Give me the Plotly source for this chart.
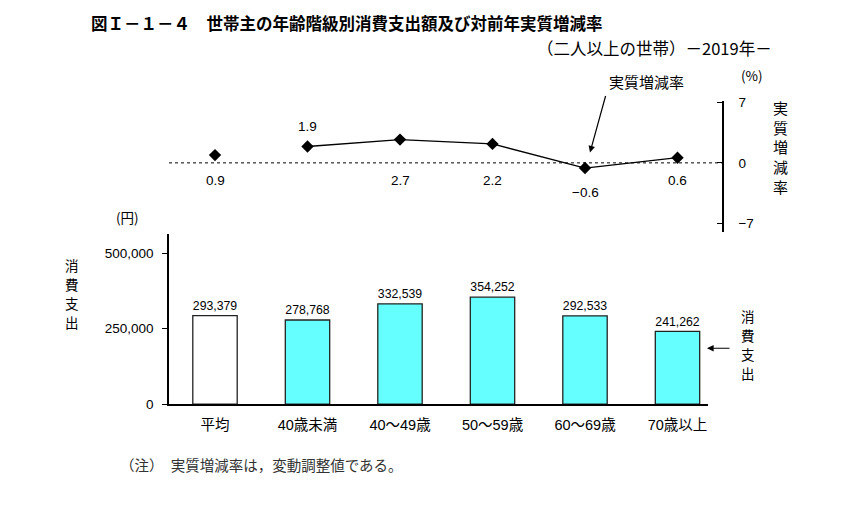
import plotly.graph_objects as go

categories = ["平均", "40歳未満", "40～49歳", "50～59歳", "60～69歳", "70歳以上"]
spending = [293379, 278768, 332539, 354252, 292533, 241262]
real_change = [0.9, 1.9, 2.7, 2.2, -0.6, 0.6]
bar_colors = ["#FFFFFF", "#66FFFF", "#66FFFF", "#66FFFF", "#66FFFF", "#66FFFF"]
bar_ticks = [0, 250000, 500000]
rate_ticks = [-7, 0, 7]

OFF = 8  # default body margin of the page
W, H = 860 - 2 * OFF, 511 - 2 * OFF
FONT = "Liberation Sans, Arial, Noto Sans CJK JP, sans-serif"
JFONT = "Noto Sans CJK JP, sans-serif"

def px(x):
    return (x - OFF) / W

def ty(y):
    # empirical vertical correction of the photographed page
    return (y - 6.5) / 0.973

def py(y):
    return (H - (ty(y) - OFF)) / H

fig = go.Figure()

fig.add_trace(go.Bar(
    x=categories, y=spending,
    marker=dict(color=bar_colors, line=dict(color="#222222", width=1.3)),
    width=0.48,
    text=[f"{v:,}" for v in spending], textposition="outside",
    textfont=dict(family=FONT, size=13.5, color="black"),
    cliponaxis=False,
    xaxis="x", yaxis="y", showlegend=False, hoverinfo="skip",
))

fig.add_trace(go.Scatter(
    x=categories[1:], y=real_change[1:], mode="lines+markers",
    line=dict(color="black", width=1.3),
    marker=dict(symbol="diamond", size=9.5, color="black"),
    xaxis="x2", yaxis="y2", showlegend=False, hoverinfo="skip", cliponaxis=False,
))
fig.add_trace(go.Scatter(
    x=categories[:1], y=real_change[:1], mode="markers",
    marker=dict(symbol="diamond", size=9.5, color="black"),
    xaxis="x2", yaxis="y2", showlegend=False, hoverinfo="skip", cliponaxis=False,
))

annotations = []
label_y = {0: -2.1, 1: 4.2, 2: -2.1, 3: -2.1, 4: -3.4, 5: -2.1}
for i, v in enumerate(real_change):
    annotations.append(dict(
        x=categories[i], y=label_y[i], xref="x2", yref="y2",
        text=f"{v:.1f}".replace("-", "−"), showarrow=False,
        font=dict(family=FONT, size=13.5, color="black"),
    ))

texts = [
    ("図Ｉ－１－４　世帯主の年齢階級別消費支出額及び対前年実質増減率", 89, 23, "left", 16.5, True, "black"),
    ("（二人以上の世帯）－2019年－", 774, 48, "right", 16.5, False, "black"),
    ("(円)", 127, 218, "center", 13.5, False, "black"),
    ("(%)", 752, 75, "center", 13.5, False, "black"),
    ("実質増減率", 646, 82, "center", 15, False, "black"),
    ("（注）　実質増減率は，変動調整値である。", 118, 465, "left", 14.5, False, "#333333"),
]
for t, x, y, anchor, size, bold, col in texts:
    annotations.append(dict(
        x=px(x), y=py(y), xref="paper", yref="paper", xanchor=anchor, yanchor="middle",
        text=f"<b>{t}</b>" if bold else t, showarrow=False, align="center",
        font=dict(family=JFONT, size=size, color=col),
    ))

# vertical titles, one character per line
vertical = [
    ("消費支出", 72, 265.5, 19.0, 13.5),
    ("実質増減率", 780, 108, 19.7, 15),
    ("消費支出", 748, 316.5, 19.0, 13.5),
]
for word, x, y0, step, size in vertical:
    for j, ch in enumerate(word):
        annotations.append(dict(
            x=px(x), y=py(y0 + j * step), xref="paper", yref="paper",
            xanchor="center", yanchor="middle", text=ch, showarrow=False,
            borderpad=0,
            font=dict(family=JFONT, size=size, color="black"),
        ))

annotations.append(dict(
    x=px(590), y=py(153), xref="paper", yref="paper", text="",
    showarrow=True, arrowhead=2, arrowsize=1.1, arrowwidth=1.2, arrowcolor="black",
    ax=16, ay=-58, standoff=0,
))
annotations.append(dict(
    x=px(707), y=py(349), xref="paper", yref="paper", text="",
    showarrow=True, arrowhead=2, arrowsize=1.1, arrowwidth=1.2, arrowcolor="black",
    ax=24, ay=0, standoff=0,
))

k = 92.5  # px per category
x0 = -46 / k
bar_left, bar_right = 169, 708
line_right = 722

bar_zero, bar_top, bar_500 = 405, 235, 253.8
r_top, r_bot, r_7, r_m7 = 101.5, 233, 103, 223.7

fig.update_layout(
    width=W, height=H, margin=dict(l=0, r=0, t=0, b=0),
    paper_bgcolor="white", plot_bgcolor="rgba(0,0,0,0)",
    font=dict(family=FONT, color="black"),
    xaxis=dict(
        domain=[px(bar_left), px(bar_right)], anchor="y",
        range=[x0, x0 + (bar_right - bar_left) / k],
        categoryorder="array", categoryarray=categories,
        showline=True, linecolor="black", linewidth=1.5, ticks="",
        ticklabelstandoff=7,
        tickfont=dict(family=FONT, size=14.5, color="black"),
        showgrid=False, zeroline=False, fixedrange=True,
    ),
    yaxis=dict(
        domain=[py(bar_zero), py(bar_top)], anchor="x",
        range=[0, (bar_zero - bar_top) / (bar_zero - bar_500) * 500000],
        tickvals=bar_ticks, ticktext=[f"{v:,}" for v in bar_ticks],
        showline=True, linecolor="black", linewidth=1.5,
        ticks="outside", ticklen=5, tickcolor="black", ticklabelstandoff=6,
        tickfont=dict(family=FONT, size=13.5, color="black"),
        showgrid=False, zeroline=False,
    ),
    xaxis2=dict(
        domain=[px(bar_left), px(line_right)], anchor="y2",
        range=[x0, x0 + (line_right - bar_left) / k],
        categoryorder="array", categoryarray=categories,
        visible=False, showgrid=False, zeroline=False,
    ),
    yaxis2=dict(
        domain=[py(r_bot), py(r_top)], anchor="x2", side="right",
        range=[-7 - (r_bot - r_m7) * 14 / (r_m7 - r_7), 7 + (r_7 - r_top) * 14 / (r_m7 - r_7)],
        tickvals=rate_ticks, ticktext=["−7", "0", "7"],
        showline=True, linecolor="black", linewidth=1.5,
        ticks="inside", ticklen=5, tickcolor="black", ticklabelstandoff=12,
        tickfont=dict(family=FONT, size=13.5, color="black"),
        showgrid=False, zeroline=False,
    ),
    shapes=[dict(
        type="line", xref="x2 domain", yref="y2", x0=0, x1=1, y0=0, y1=0,
        line=dict(color="black", width=1, dash="dot"), layer="below",
    )],
    annotations=annotations,
)

fig.write_html("out.html")
